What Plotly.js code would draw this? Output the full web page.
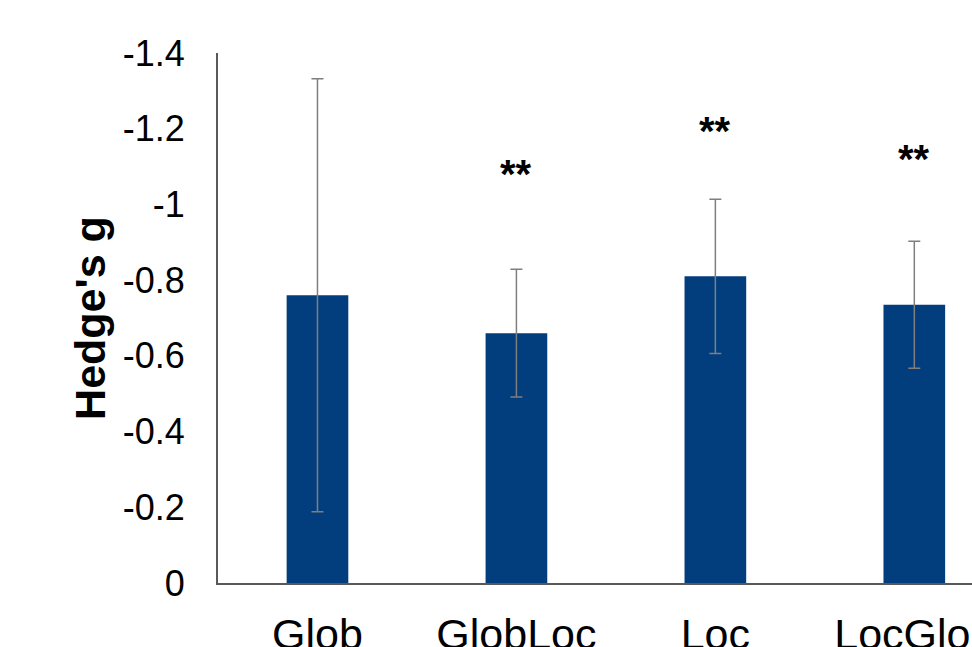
<!DOCTYPE html>
<html>
<head>
<meta charset="utf-8">
<script src="https://cdn.plot.ly/plotly-3.0.1.min.js"></script>
<style>html,body{margin:0;padding:0;background:#fff;}#chart{width:972px;height:647px;}</style>
</head>
<body>
<div id="chart"></div>
<script>
const categories = ["Glob", "GlobLoc", "Loc", "LocGlob"];
const hedgesG = [-0.76, -0.66, -0.81, -0.735];
const errors = [0.572, 0.169, 0.204, 0.168];
const sigLabels = ["", "**", "**", "**"];
const sigY = [null, -1.08, -1.195, -1.12];

const trace = {
  type: "bar",
  x: categories,
  y: hedgesG,
  width: 0.31,
  marker: {color: "#023e7d"},
  error_y: {type: "data", array: errors, visible: true, color: "#7f7f7f", thickness: 1.5, width: 6}
};

const annotations = [];
categories.forEach((c, i) => {
  if (sigLabels[i]) {
    annotations.push({x: c, y: sigY[i], xref: "x", yref: "y", text: "<b>" + sigLabels[i] + "</b>", showarrow: false,
      font: {family: "Liberation Sans, Arial, sans-serif", size: 40, color: "#000"}, yanchor: "middle"});
  }
});

const layout = {
  width: 972, height: 647,
  margin: {l: 218, r: 0, t: 53, b: 64},
  paper_bgcolor: "#fff", plot_bgcolor: "#fff",
  font: {family: "Liberation Sans, Arial, sans-serif", color: "#000"},
  showlegend: false,
  xaxis: {
    range: [-0.5, 3.29], showline: true, linecolor: "#595959", linewidth: 2,
    showgrid: false, zeroline: false, ticks: "", tickfont: {size: 43}, ticklabelstandoff: 12
  },
  yaxis: {
    range: [0, -1.4], tickvals: [0, -0.2, -0.4, -0.6, -0.8, -1, -1.2, -1.4],
    ticktext: ["0", "-0.2", "-0.4", "-0.6", "-0.8", "-1", "-1.2", "-1.4"],
    showline: true, linecolor: "#595959", linewidth: 2, showgrid: false, zeroline: false,
    ticks: "", tickfont: {size: 36}, ticklabelstandoff: 24,
    title: {text: "<b>Hedge's g</b>", font: {size: 43}, standoff: 4}
  },
  annotations: annotations
};

Plotly.newPlot("chart", [trace], layout, {displayModeBar: false, staticPlot: true});
</script>
</body>
</html>
